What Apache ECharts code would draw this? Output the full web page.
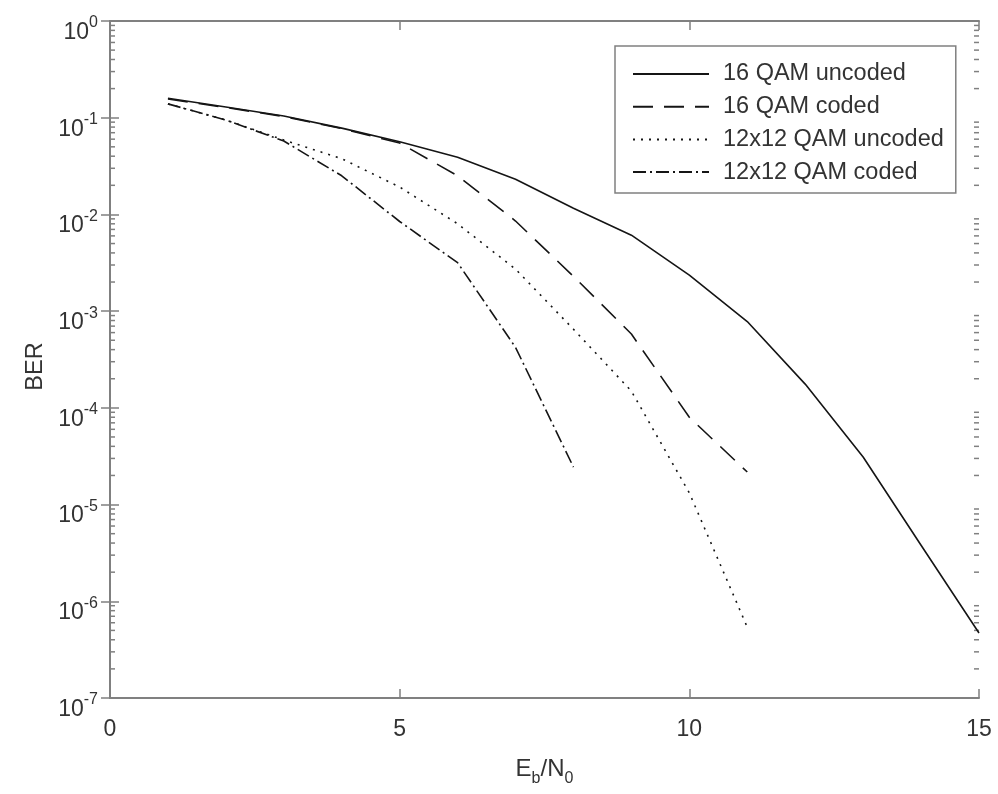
<!DOCTYPE html>
<html>
<head>
<meta charset="utf-8">
<script src="https://cdn.jsdelivr.net/npm/echarts@6/dist/echarts.min.js"></script>
<style>
html,body{margin:0;padding:0;background:#fff;}
#chart{width:998px;height:794px;}
</style>
</head>
<body>
<div id="chart"></div>
<script>
// ---- data ----
const ebn0 = [1, 2, 3, 4, 5, 6, 7, 8, 9, 10, 11, 12, 13, 14, 15];
const qam16Uncoded = [0.159, 0.129, 0.104, 0.078, 0.0565, 0.039, 0.0231, 0.0116, 0.0061, 0.00236, 7.8e-4, 1.76e-4, 3.1e-5, 3.8e-6, 4.7e-7];
const qam16Coded = [0.156, 0.1275, 0.103, 0.0773, 0.0547, 0.0251, 0.00855, 0.00229, 5.8e-4, 8.0e-5, 2.17e-5];
const qam144Uncoded = [0.139, 0.0947, 0.0588, 0.0377, 0.0192, 0.008, 0.00272, 6.5e-4, 1.49e-4, 1.32e-5, 5.4e-7];
const qam144Coded = [0.139, 0.0947, 0.0574, 0.0251, 0.00845, 0.00317, 4.22e-4, 2.44e-5];
const seriesNames = ['16 QAM uncoded', '16 QAM coded', '12x12 QAM uncoded', '12x12 QAM coded'];
const xMin = 0, xMax = 15, xInterval = 5;
const yMin = 1e-7, yMax = 1;
const minorMultipliers = [2, 3, 4, 5, 6, 7, 8, 9];
const minorDecadeExponents = [-7, -6, -5, -4, -3, -2, -1];

const FONT = '"Liberation Sans", Arial, Helvetica, sans-serif';
const AXIS_COLOR = '#808080';
const TEXT_COLOR = '#333333';
const LINE_COLOR = '#151515';

function pairs(values) {
  return values.map((v, i) => [ebn0[i], v]);
}

const minorTickValues = [];
minorDecadeExponents.forEach(e => {
  minorMultipliers.forEach(m => minorTickValues.push([xMin, m * Math.pow(10, e)]));
});

const chart = echarts.init(document.getElementById('chart'), null, {renderer: 'canvas'});

const axisLineStyle = {show: true, lineStyle: {color: AXIS_COLOR, width: 2}};
const tickStyle = {show: true, inside: true, length: 9, lineStyle: {color: AXIS_COLOR, width: 1.5}};

const option = {
  animation: false,
  backgroundColor: '#ffffff',
  grid: {left: 110, top: 21, right: 19, bottom: 96, containLabel: false, outerBoundsMode: 'none'},
  legend: {
    data: seriesNames,
    orient: 'vertical',
    left: 615,
    top: 46,
    itemWidth: 76,
    itemHeight: 20,
    itemGap: 8.7,
    padding: [16, 12, 9, 17],
    borderColor: AXIS_COLOR,
    borderWidth: 1.5,
    backgroundColor: '#ffffff',
    selectedMode: false,
    itemStyle: {opacity: 0, borderWidth: 0},
    textStyle: {fontFamily: FONT, fontSize: 23.5, lineHeight: 20, color: TEXT_COLOR, padding: [0, 0, 0, 9]}
  },
  xAxis: [{
    type: 'value',
    min: xMin, max: xMax, interval: xInterval,
    position: 'bottom',
    axisLine: axisLineStyle,
    axisTick: tickStyle,
    splitLine: {show: false},
    axisLabel: {fontFamily: FONT, fontSize: 23, color: TEXT_COLOR, margin: 20},
    name: '{e|E}{s|b}{e|/N}{s|0}',
    nameLocation: 'middle',
    nameGap: 59,
    nameTextStyle: {
      rich: {
        e: {fontFamily: FONT, fontSize: 24, color: TEXT_COLOR, lineHeight: 26, verticalAlign: 'top'},
        s: {fontFamily: FONT, fontSize: 16, color: TEXT_COLOR, lineHeight: 16, padding: [14, 0, 0, 0], verticalAlign: 'top'}
      }
    }
  }, {
    type: 'value',
    min: xMin, max: xMax, interval: xInterval,
    position: 'top',
    axisLine: axisLineStyle,
    axisTick: tickStyle,
    splitLine: {show: false},
    axisLabel: {show: false}
  }],
  yAxis: [{
    type: 'log',
    logBase: 10,
    min: yMin, max: yMax,
    splitNumber: 7,
    position: 'left',
    axisLine: axisLineStyle,
    axisTick: tickStyle,
    splitLine: {show: false},
    axisLabel: {
      margin: 12,
      formatter: function (v) {
        const e = Math.round(Math.log10(v));
        return '{b|10}{s|' + e + '}';
      },
      rich: {
        b: {fontFamily: FONT, fontSize: 23, color: TEXT_COLOR, lineHeight: 22, padding: [11, 0, 0, 0], verticalAlign: 'top'},
        s: {fontFamily: FONT, fontSize: 16, color: TEXT_COLOR, lineHeight: 16, padding: [5, 0, 0, 0], verticalAlign: 'top'}
      }
    },
    name: 'BER',
    nameLocation: 'middle',
    nameGap: 57,
    nameRotate: 90,
    nameTextStyle: {fontFamily: FONT, fontSize: 23.5, color: TEXT_COLOR, padding: [0, 14, 0, 0]}
  }, {
    type: 'log',
    logBase: 10,
    min: yMin, max: yMax,
    splitNumber: 7,
    position: 'right',
    axisLine: axisLineStyle,
    axisTick: tickStyle,
    splitLine: {show: false},
    axisLabel: {show: false}
  }],
  series: [
    {
      name: seriesNames[0], type: 'line', data: pairs(qam16Uncoded),
      symbol: 'none', smooth: false, xAxisIndex: 0, yAxisIndex: 0,
      lineStyle: {color: LINE_COLOR, width: 1.6, type: 'solid'},
      itemStyle: {color: LINE_COLOR}
    },
    {
      name: seriesNames[1], type: 'line', data: pairs(qam16Coded),
      symbol: 'none', smooth: false, xAxisIndex: 0, yAxisIndex: 0,
      lineStyle: {color: LINE_COLOR, width: 1.6, type: [20, 11]},
      itemStyle: {color: LINE_COLOR}
    },
    {
      name: seriesNames[2], type: 'line', data: pairs(qam144Uncoded),
      symbol: 'none', smooth: false, xAxisIndex: 0, yAxisIndex: 0,
      lineStyle: {color: LINE_COLOR, width: 1.6, type: [2, 6]},
      itemStyle: {color: LINE_COLOR}
    },
    {
      name: seriesNames[3], type: 'line', data: pairs(qam144Coded),
      symbol: 'none', smooth: false, xAxisIndex: 0, yAxisIndex: 0,
      lineStyle: {color: LINE_COLOR, width: 1.6, type: [13, 4, 2, 4]},
      itemStyle: {color: LINE_COLOR}
    },
    {
      name: 'minorTicks', type: 'custom', xAxisIndex: 0, yAxisIndex: 0,
      silent: true, clip: false, z: 1,
      data: minorTickValues,
      renderItem: function (params, api) {
        const v = api.value(1);
        const l = api.coord([xMin, v]);
        const r = api.coord([xMax, v]);
        const st = {stroke: AXIS_COLOR, lineWidth: 1.5};
        return {
          type: 'group',
          children: [
            {type: 'line', shape: {x1: l[0], y1: l[1], x2: l[0] + 5, y2: l[1]}, style: st},
            {type: 'line', shape: {x1: r[0] - 5, y1: r[1], x2: r[0], y2: r[1]}, style: st}
          ]
        };
      }
    }
  ]
};
chart.setOption(option);
</script>
</body>
</html>
